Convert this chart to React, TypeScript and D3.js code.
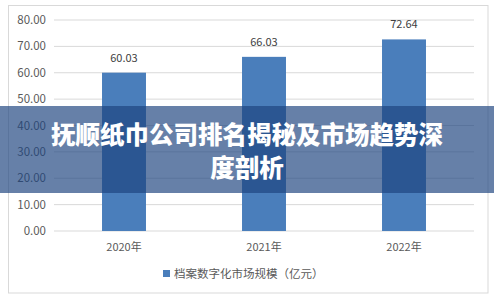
import React from "react";
import * as d3 from "d3";

const categories = ["2020年", "2021年", "2022年"];
const values = [60.03, 66.03, 72.64];
const yTicks = [0, 10, 20, 30, 40, 50, 60, 70, 80];
const seriesName = "档案数字化市场规模（亿元）";
const titleLines = ["抚顺纸巾公司排名揭秘及市场趋势深", "度剖析"];

export default function App() {
  const W = 494, H = 301;
  const x = d3.scaleBand<string>().domain(categories).range([54, 474]).paddingInner(0.686).paddingOuter(0.343);
  const y = d3.scaleLinear().domain([0, 80]).range([231, 20]);
  const font = "'Microsoft YaHei', 'Noto Sans CJK SC', sans-serif";
  return (
    <svg width={W} height={H} style={{ position: "absolute", left: 0, top: 0, background: "#fff" }} fontFamily={font}>
      <rect x={8.5} y={5.5} width={479.5} height={287.5} fill="#fff" stroke="#d9d9d9" />
      {yTicks.map((t) => (
        <g key={t}>
          <line x1={54} x2={474} y1={y(t)} y2={y(t)} stroke="#d9d9d9" strokeWidth={1} />
          <text x={46} y={y(t)} dy="0.35em" textAnchor="end" fontSize={11.5} fill="#595959">
            {t.toFixed(2)}
          </text>
        </g>
      ))}
      {categories.map((c, i) => (
        <g key={c}>
          <rect x={x(c)} y={y(values[i])} width={x.bandwidth()} height={y(0) - y(values[i])} fill="#4a7ebb" />
          <text x={x(c)! + x.bandwidth() / 2} y={y(values[i]) - 11} textAnchor="middle" fontSize={11} fill="#404040">
            {values[i].toFixed(2)}
          </text>
          <text x={x(c)! + x.bandwidth() / 2} y={247} dy="0.35em" textAnchor="middle" fontSize={11} fill="#595959">
            {c}
          </text>
        </g>
      ))}
      <rect x={163} y={270} width={7} height={7} fill="#4a7ebb" />
      <text x={174} y={274} dy="0.35em" fontSize={11.5} fill="#595959">{seriesName}</text>
      <rect x={0} y={106} width={W} height={87} fill="rgb(30,68,127)" fillOpacity={0.68} />
      {titleLines.map((l, i) => (
        <text key={i} x={247} y={135 + i * 33} dy="0.35em" textAnchor="middle" fontSize={24.5} fontWeight={900} fill="#fff">
          {l}
        </text>
      ))}
    </svg>
  );
}
